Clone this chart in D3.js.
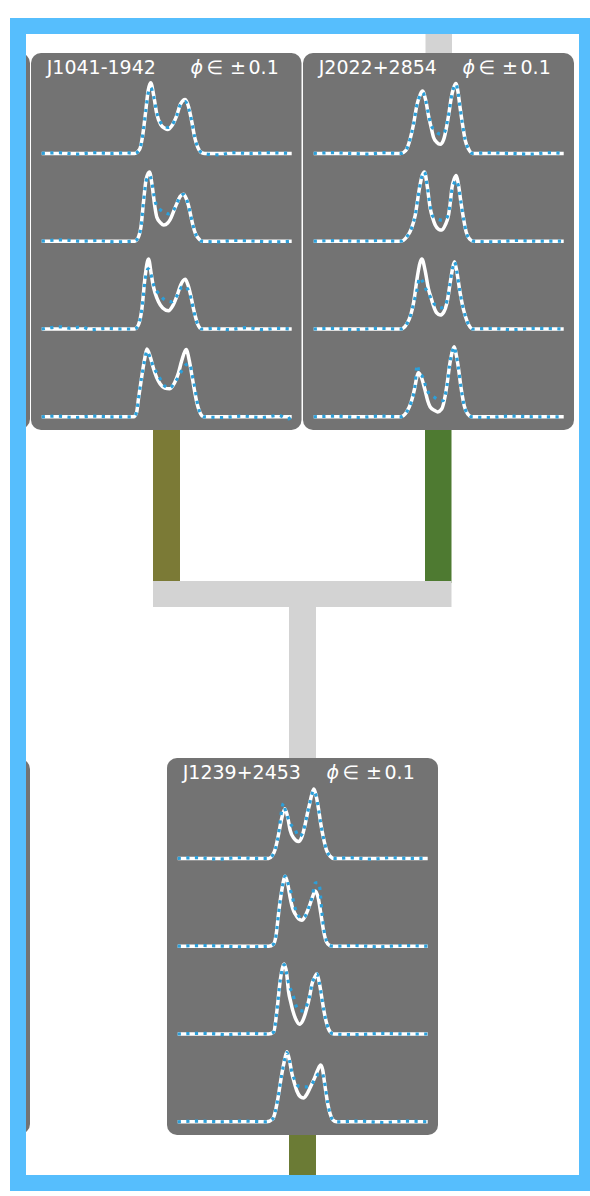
<!DOCTYPE html>
<html>
<head>
<meta charset="utf-8">
<script src="https://cdn.jsdelivr.net/npm/d3@7"></script>
<style>
  html, body { margin: 0; padding: 0; background: #fff; }
  svg { display: block; }
</style>
</head>
<body>
<svg id="chart" width="590" height="1196"></svg>
<script>
// ---- data -------------------------------------------------------------
const pulsars = ["J1041-1942", "J2022+2854", "J1239+2453"];
const phaseWindow = 0.1;   // each profile spans phase ±phaseWindow
const nbin = 1250;         // phase bins per rotation
// profiles: [bin offset from the profile centre, normalised intensity]
// white = fitted template, blue = observed profile; four epochs per pulsar

const modelJ1041 = [
  [[-125,0],[-32,0],[-27,.06],[-24,.26],[-21,.6],[-18.5,.9],[-16,1.01],[-13,.83],[-10,.57],[-6,.41],[-2,.36],[1,.34],[5,.39],[10,.54],[14,.71],[18.5,.77],[22,.66],[25,.46],[28,.23],[31,.09],[35,.01],[38,0],[125,0]],
  [[-125,0],[-32,0],[-28,.07],[-25.8,.2],[-23.2,.56],[-20.5,.89],[-17.2,.99],[-14.5,.79],[-12,.51],[-9.8,.34],[-6,.26],[-3,.23],[1,.26],[3.5,.31],[7,.43],[10.2,.54],[13.5,.64],[16.8,.67],[19.5,.61],[21.8,.51],[24,.37],[26.2,.23],[29,.1],[31.8,.04],[35,0],[125,0]],
  [[-125,0],[-32,0],[-28,.07],[-24.8,.29],[-21.5,.76],[-18.2,1.0],[-15.5,.79],[-13.8,.64],[-11.5,.51],[-8.2,.39],[-4,.3],[1.8,.26],[6,.33],[10.2,.47],[14,.63],[18.5,.71],[21,.64],[24.2,.47],[26.5,.31],[28.5,.19],[31,.07],[35,0],[125,0]],
  [[-125,0],[-33,0],[-30,.07],[-28.2,.26],[-24.8,.59],[-22,.83],[-19.8,.97],[-16.5,.86],[-13.2,.69],[-10,.56],[-6.5,.47],[-2,.41],[3,.4],[8,.49],[11.8,.63],[15,.8],[19.5,.96],[22.5,.81],[25.2,.59],[28,.36],[30.2,.2],[33,.07],[37,0],[125,0]]
];
const dataJ1041 = [
  [[-125,0],[-108,.01],[-90,-.01],[-72,.01],[-55,0],[-40,.01],[-32,0],[-27,.06],[-24,.26],[-21,.6],[-18.5,.86],[-16,.94],[-13,.81],[-10,.59],[-6,.44],[-2,.39],[1,.37],[5,.4],[10,.54],[14,.7],[18.5,.74],[22,.64],[25,.46],[28,.23],[31,.09],[35,.01],[40,-.01],[52,-.02],[66,.01],[84,0],[100,.01],[125,0]],
  [[-125,0],[-104,.02],[-86,0],[-70,.01],[-52,-.01],[-32,0],[-28,.07],[-25.8,.2],[-23.2,.56],[-20.5,.86],[-17.2,.94],[-14.5,.81],[-12,.6],[-9.8,.5],[-5.5,.44],[-1,.4],[1.8,.39],[5,.41],[8,.47],[10.2,.54],[13.5,.64],[16.8,.67],[19.5,.61],[21.8,.51],[24,.37],[26.2,.23],[29,.1],[31.8,.04],[35,0],[50,-.01],[68,.01],[90,0],[108,-.01],[125,0]],
  [[-125,0],[-106,.03],[-96,.01],[-86,.03],[-75,-.01],[-60,.01],[-45,0],[-32,0],[-28,.07],[-24.8,.29],[-21.5,.71],[-18.5,.86],[-16,.79],[-13,.63],[-10,.54],[-8.2,.51],[-3.2,.43],[1,.4],[5.2,.39],[8,.43],[11.8,.51],[15.2,.6],[18.5,.61],[21,.57],[24.2,.44],[26.5,.3],[28.5,.17],[31,.07],[35,0],[48,.01],[62,-.01],[80,.02],[96,-.01],[110,.01],[125,0]],
  [[-125,0],[-110,.01],[-92,-.01],[-74,.01],[-56,0],[-33,0],[-30,.07],[-28.2,.26],[-24.8,.59],[-22,.81],[-19.8,.94],[-16.5,.84],[-13.2,.71],[-10,.63],[-6.5,.54],[-2,.44],[3,.41],[8,.49],[11.8,.57],[15,.66],[19,.74],[22.8,.76],[25.5,.6],[28.5,.39],[30.5,.21],[33,.07],[37,0],[55,-.01],[75,.01],[95,-.01],[112,.02],[121,-.03],[125,0]]
];

const modelJ2022 = [
  [[-125,0],[-38,0],[-33,.04],[-28.5,.21],[-25,.43],[-21.8,.69],[-18.5,.84],[-16.2,.89],[-13,.76],[-10.2,.54],[-7.5,.37],[-5.2,.23],[-2,.16],[1.5,.13],[5,.2],[8.2,.4],[10.5,.6],[12.5,.79],[15,.94],[17.2,1.0],[19.5,.86],[21.5,.64],[24,.4],[26.5,.19],[30,.06],[34,0],[125,0]],
  [[-125,0],[-38,0],[-32,.06],[-27,.19],[-23.5,.37],[-19.2,.76],[-16.5,.94],[-14.2,.99],[-11.5,.79],[-8.5,.47],[-6,.33],[-3.5,.23],[0,.17],[3.2,.16],[6.5,.23],[9.8,.37],[11.5,.54],[13.2,.76],[15.5,.89],[17.5,.94],[19.5,.83],[22.2,.56],[25,.31],[27.5,.13],[31,.03],[35,0],[125,0]],
  [[-125,0],[-38,0],[-32,.07],[-28,.2],[-25.2,.37],[-21.2,.76],[-18.8,.94],[-16.8,1.0],[-13.5,.83],[-10.2,.57],[-7.5,.44],[-5.2,.33],[-2,.23],[1.5,.2],[5,.24],[8.2,.37],[11.5,.66],[13.8,.86],[15.8,.96],[18,.83],[20.8,.57],[23.5,.36],[26.5,.19],[30,.06],[34,0],[125,0]],
  [[-125,0],[-38,0],[-32,.07],[-27.5,.21],[-24,.41],[-22,.56],[-20.3,.63],[-17.5,.57],[-14,.4],[-11,.23],[-8.5,.14],[-4,.09],[-1,.07],[3,.11],[6.5,.3],[8.8,.51],[10.8,.73],[13,.9],[15.5,1.0],[17.5,.89],[19.8,.69],[22.5,.4],[25.5,.16],[29,.04],[33,0],[125,0]]
];
const dataJ2022 = [
  [[-125,0],[-105,.01],[-88,0],[-70,-.01],[-55,.01],[-38,0],[-33,.04],[-28.5,.21],[-25,.43],[-21.8,.69],[-18.5,.83],[-16.2,.87],[-13,.76],[-10.2,.56],[-7.5,.4],[-4.5,.34],[-1,.29],[3.2,.27],[6,.31],[8.2,.43],[10.5,.6],[12.5,.79],[15,.94],[17.2,.99],[19.5,.86],[21.5,.64],[24,.4],[26.5,.19],[30,.06],[34,0],[50,.01],[70,0],[92,-.01],[110,.01],[125,0]],
  [[-125,0],[-100,.01],[-80,0],[-60,.01],[-38,0],[-32,.06],[-27,.19],[-23.5,.37],[-19.2,.76],[-16.5,.94],[-14.2,.99],[-11.5,.79],[-8.5,.5],[-6,.36],[-3.5,.33],[0,.31],[3.2,.3],[6.5,.31],[9.8,.4],[11.5,.54],[13.2,.73],[15.5,.83],[17.5,.87],[19.5,.8],[22.2,.56],[25,.31],[27.5,.13],[31,.03],[35,0],[55,-.01],[78,.01],[100,0],[125,0]],
  [[-125,0],[-104,.01],[-84,-.01],[-62,.01],[-38,0],[-32,.07],[-28,.2],[-25.2,.36],[-21.2,.59],[-19.2,.73],[-16.5,.69],[-12.5,.56],[-10.2,.51],[-7.5,.43],[-5.2,.37],[-1.8,.33],[1.5,.3],[5,.31],[8.2,.4],[11.5,.66],[13.8,.86],[15.8,.96],[18,.83],[20.8,.57],[23.5,.36],[26.5,.19],[30,.06],[34,0],[52,.01],[74,-.01],[96,.01],[125,0]],
  [[-125,0],[-102,.01],[-80,-.01],[-58,.01],[-38,0],[-32,.07],[-27.5,.21],[-24,.41],[-21.5,.74],[-19.5,.63],[-16,.57],[-13,.44],[-10,.34],[-6.5,.3],[-3.5,.27],[0,.24],[4.2,.23],[7,.34],[9,.51],[10.8,.73],[13,.9],[15.5,1.0],[17.5,.89],[19.8,.69],[22.5,.4],[25.5,.16],[29,.04],[33,0],[50,-.01],[72,.01],[98,0],[125,0]]
];

const modelJ1239 = [
  [[-125,0],[-34,0],[-30.8,.03],[-27.5,.13],[-24.2,.34],[-21,.57],[-17.8,.71],[-15,.59],[-12.5,.4],[-9,.29],[-4.2,.24],[-1,.3],[2.5,.49],[4.5,.63],[6.8,.77],[9,.91],[11.2,.99],[13.5,.89],[15.8,.71],[18,.5],[20.8,.29],[24,.11],[27.5,.03],[31,0],[125,0]],
  [[-125,0],[-34,0],[-29.2,.03],[-26.5,.17],[-24.2,.46],[-21,.79],[-17.5,1.0],[-15,.89],[-12.5,.69],[-10,.54],[-7.5,.46],[-4,.39],[-0.8,.37],[2.5,.43],[5.8,.54],[9.5,.69],[12.5,.79],[15.5,.69],[18.2,.46],[21,.21],[23.5,.07],[27,.01],[31,0],[125,0]],
  [[-125,0],[-34,0],[-29,.03],[-25.8,.33],[-22.5,.76],[-18.5,1.0],[-16,.86],[-14.2,.61],[-12,.46],[-9.8,.33],[-6.5,.2],[-3.2,.14],[0,.19],[4.2,.37],[7,.54],[9.2,.71],[12,.81],[14.2,.86],[16.5,.74],[19.2,.51],[21.5,.31],[24.2,.14],[27.5,.03],[31,0],[125,0]],
  [[-125,0],[-36,0],[-30,.04],[-27.5,.14],[-25.2,.3],[-20.8,.69],[-18,.89],[-15.8,1.0],[-13,.86],[-10.8,.69],[-8,.54],[-5.8,.44],[-2.5,.36],[0.8,.34],[4,.39],[7.5,.49],[12,.63],[15,.74],[18,.81],[20,.74],[22.5,.49],[25,.26],[27.5,.11],[30,.03],[34,0],[125,0]]
];
const dataJ1239 = [
  [[-125,0],[-106,.01],[-84,-.01],[-64,.01],[-46,0],[-34,0],[-30.8,.03],[-27.5,.13],[-24.2,.34],[-21.5,.64],[-19.2,.79],[-17.8,.71],[-15.5,.61],[-12.5,.5],[-7.5,.41],[-4.2,.31],[-1,.34],[2.5,.49],[4.5,.63],[6.8,.77],[9,.91],[11.2,.97],[13.5,.89],[15.8,.71],[18,.5],[20.8,.29],[24,.11],[27.5,.03],[31,0],[48,.01],[68,-.01],[88,.01],[108,0],[125,0]],
  [[-125,0],[-100,.01],[-78,0],[-58,-.01],[-34,0],[-29.2,.03],[-26.5,.17],[-24.2,.46],[-21,.79],[-17.5,1.0],[-14.5,.89],[-10.8,.73],[-7.5,.54],[-4,.43],[-0.8,.4],[2.5,.43],[5.8,.54],[9.5,.71],[12.5,.9],[15,.91],[16.8,.86],[18.5,.6],[21,.26],[23.5,.09],[27,.01],[31,0],[52,.01],[76,-.01],[100,.01],[125,0]],
  [[-125,0],[-98,.01],[-76,-.01],[-54,.01],[-34,0],[-29,.03],[-25.8,.33],[-22.5,.76],[-18.5,.99],[-16,.86],[-13.5,.69],[-9.8,.57],[-7.5,.44],[-4.2,.34],[0.8,.33],[4.8,.44],[7,.54],[9.2,.71],[12,.81],[14.2,.86],[16.5,.74],[19.2,.51],[21.5,.31],[24.2,.14],[27.5,.03],[31,0],[54,-.01],[80,.01],[104,0],[125,0]],
  [[-125,0],[-104,.01],[-82,0],[-60,.01],[-36,0],[-30,.04],[-27.5,.14],[-25.2,.3],[-20.8,.69],[-18,.89],[-15.8,.99],[-13,.86],[-10.8,.71],[-8,.6],[-4.2,.51],[1.5,.5],[5,.5],[9.2,.54],[13,.63],[16,.69],[19.2,.7],[22.5,.51],[25,.27],[27.5,.11],[30,.03],[34,0],[56,.01],[80,-.01],[102,.01],[125,0]]
];

// ---- layout -----------------------------------------------------------
const svg = d3.select("#chart");
const inner = { x0: 26, y0: 34, x1: 579, y1: 1175 };
const frameStroke = 16;

const colors = {
  frame: "#56befd",
  panel: "#737373",
  link: "#d3d3d3",
  olive: "#7b7a36",
  green: "#4e7a31",
  stem: "#6b7b35",
  model: "#ffffff",
  data: "#2c9fd9"
};

const panelW = 271, panelH = 377, radius = 10;
const rowStep = 87.8, firstBase = 100.4, ampPx = 70;

svg.append("defs").append("clipPath").attr("id", "inner-area")
  .append("rect")
  .attr("x", inner.x0).attr("y", inner.y0)
  .attr("width", inner.x1 - inner.x0).attr("height", inner.y1 - inner.y0);

const g = svg.append("g").attr("clip-path", "url(#inner-area)");

// tree links joining the profile panels
const links = [
  { x: 425.5, y: 0,    w: 26.5, h: 60,   c: colors.link },
  { x: 153,   y: 428,  w: 27,   h: 155,  c: colors.olive },
  { x: 425,   y: 428,  w: 26.5, h: 155,  c: colors.green },
  { x: 153,   y: 581,  w: 298.5,h: 26,   c: colors.link },
  { x: 289,   y: 606,  w: 27,   h: 155,  c: colors.link },
  { x: 289,   y: 1130, w: 27,   h: 50,   c: colors.stem }
];
g.selectAll("rect.link").data(links).join("rect")
  .attr("class", "link")
  .attr("x", d => d.x).attr("y", d => d.y)
  .attr("width", d => d.w).attr("height", d => d.h)
  .attr("fill", d => d.c);

// neighbouring panels, only their edges fall inside the frame
const sidePanels = [{ x: -241, y: 53 }, { x: -241, y: 759 }];
g.selectAll("rect.side").data(sidePanels).join("rect")
  .attr("class", "side")
  .attr("x", d => d.x).attr("y", d => d.y)
  .attr("width", panelW).attr("height", d => d.y > 500 ? 375 : 376)
  .attr("rx", radius).attr("fill", colors.panel);

const panels = [
  { name: pulsars[0], model: modelJ1041, data: dataJ1041, x: 31,  y: 53,  w: 270.5 },
  { name: pulsars[1], model: modelJ2022, data: dataJ2022, x: 303, y: 53,  w: 271 },
  { name: pulsars[2], model: modelJ1239, data: dataJ1239, x: 167, y: 758, w: 271 }
];

const halfBins = phaseWindow * nbin;

panels.forEach(p => {
  const pg = g.append("g");
  pg.append("rect")
    .attr("x", p.x).attr("y", p.y)
    .attr("width", p.w).attr("height", panelH)
    .attr("rx", radius).attr("fill", colors.panel);

  // title: pulsar name and phase window
  pg.append("text")
    .attr("x", p.x + 15.7).attr("y", p.y + 21)
    .attr("font-family", "DejaVu Sans").attr("font-size", 19)
    .attr("fill", "#fff")
    .text(p.name);
  const t = pg.append("text")
    .attr("y", p.y + 21)
    .attr("font-family", "DejaVu Sans").attr("font-size", 19)
    .attr("fill", "#fff");
  t.append("tspan").attr("x", p.x + 159.5).attr("font-style", "italic").text("ϕ");
  t.append("tspan").attr("x", p.x + 175.5).text("∈");
  t.append("tspan").attr("x", p.x + 199).text("±");
  t.append("tspan").attr("x", p.x + 217.5).text(phaseWindow.toFixed(1).replace(/^0/, "0"));

  const x = d3.scaleLinear()
    .domain([-halfBins, halfBins])
    .range([p.x + 10.7, p.x + 260.7]);

  p.model.forEach((prof, i) => {
    const base = p.y + firstBase + i * rowStep;
    const y = d3.scaleLinear().domain([0, 1]).range([base, base - ampPx]);
    const line = d3.line()
      .x(d => x(d[0])).y(d => y(d[1]))
      .curve(d3.curveMonotoneX);

    pg.append("path")
      .attr("d", line(prof))
      .attr("fill", "none")
      .attr("stroke", colors.model)
      .attr("stroke-width", 3.5)
      .attr("stroke-linejoin", "round");

    pg.append("path")
      .attr("d", line(p.data[i]))
      .attr("fill", "none")
      .attr("stroke", colors.data)
      .attr("stroke-width", 3.2)
      .attr("stroke-dasharray", "3.2,5.4");
  });
});

// outer frame
svg.append("rect")
  .attr("x", inner.x0 - frameStroke / 2)
  .attr("y", inner.y0 - frameStroke / 2)
  .attr("width", (inner.x1 - inner.x0) + frameStroke)
  .attr("height", (inner.y1 - inner.y0) + frameStroke)
  .attr("fill", "none")
  .attr("stroke", colors.frame)
  .attr("stroke-width", frameStroke);
</script>
</body>
</html>
